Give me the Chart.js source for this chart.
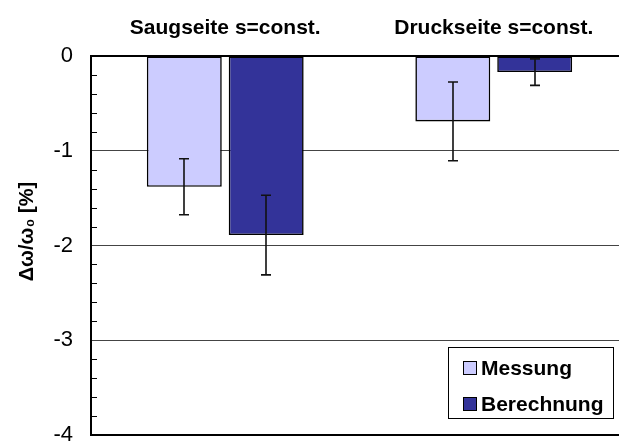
<!DOCTYPE html>
<html>
<head>
<meta charset="utf-8">
<script src="https://cdn.jsdelivr.net/npm/chart.js@4/dist/chart.umd.min.js"></script>
<style>
  html, body { margin: 0; padding: 0; background: #fff; overflow: hidden; }
  #wrap { width: 628px; height: 445px; }
</style>
</head>
<body>
<div id="wrap"><canvas id="chart" width="628" height="445"></canvas></div>
<script>
const categories = ["Saugseite s=const.", "Druckseite s=const."];
const messung = [-1.38, -0.69];
const messungErr = [0.295, 0.415];
const berechnung = [-1.89, -0.17];
const berechnungErr = [0.42, 0.14];
const yTicks = [0, -1, -2, -3, -4];

const FONT = "'Liberation Sans', Arial, sans-serif";

// whisker for each bar, value +/- err through the y scale
const errorBars = {
  id: "errorBars",
  afterDatasetsDraw(chart) {
    const { ctx, scales: { y } } = chart;
    ctx.save();
    ctx.strokeStyle = "#111";
    ctx.lineWidth = 1.6;
    chart.data.datasets.forEach((ds, i) => {
      const meta = chart.getDatasetMeta(i);
      meta.data.forEach((bar, j) => {
        const v = ds.data[j];
        const e = ds.errors[j];
        const x = Math.round(bar.x);
        const top = y.getPixelForValue(v + e);
        const bot = y.getPixelForValue(v - e);
        ctx.beginPath();
        ctx.moveTo(x, top);
        ctx.lineTo(x, bot);
        ctx.moveTo(x - 5, top);
        ctx.lineTo(x + 5, top);
        ctx.moveTo(x - 5, bot);
        ctx.lineTo(x + 5, bot);
        ctx.stroke();
      });
    });
    ctx.restore();
  },
};

// small inward ticks every 0.2 on the value axis
const minorTicks = {
  id: "minorTicks",
  afterDraw(chart) {
    const { ctx, chartArea, scales: { y } } = chart;
    ctx.save();
    ctx.strokeStyle = "#000";
    ctx.lineWidth = 1;
    for (let k = 1; k < 20; k++) {
      if (k % 5 === 0) continue;
      const py = Math.round(y.getPixelForValue(-k * 0.2)) + 0.5;
      ctx.beginPath();
      ctx.moveTo(chartArea.left, py);
      ctx.lineTo(chartArea.left + 6, py);
      ctx.stroke();
    }
    ctx.restore();
  },
};

// boxed legend sitting inside the plot, lower right
const boxLegend = {
  id: "boxLegend",
  afterDraw(chart) {
    const { ctx } = chart;
    const left = 448, top = 347, right = 614, bottom = 419;
    ctx.save();
    ctx.fillStyle = "#fff";
    ctx.fillRect(left, top, right - left, bottom - top);
    ctx.strokeStyle = "#000";
    ctx.lineWidth = 1;
    ctx.strokeRect(left + 0.5, top + 0.5, right - left - 1, bottom - top - 1);
    ctx.font = "bold 21px " + FONT;
    ctx.textBaseline = "middle";
    chart.data.datasets.forEach((ds, i) => {
      const cy = 368 + i * 36;
      ctx.fillStyle = ds.backgroundColor;
      ctx.fillRect(463, cy - 7, 14, 14);
      ctx.strokeRect(463.5, cy - 6.5, 13, 13);
      ctx.fillStyle = "#000";
      ctx.fillText(ds.label, 481, cy + 1);
    });
    ctx.restore();
  },
};

new Chart(document.getElementById("chart"), {
  type: "bar",
  data: {
    labels: categories,
    datasets: [
      {
        label: "Messung",
        data: messung,
        errors: messungErr,
        backgroundColor: "#ccccff",
        borderColor: "#000",
        borderWidth: 1.6,
        borderSkipped: false,
      },
      {
        label: "Berechnung",
        data: berechnung,
        errors: berechnungErr,
        backgroundColor: "#333399",
        borderColor: "#000",
        borderWidth: 1.6,
        borderSkipped: false,
      },
    ],
  },
  options: {
    responsive: false,
    animation: false,
    categoryPercentage: 0.61,
    barPercentage: 0.915,
    layout: { padding: { top: 0, right: 0, bottom: 10, left: 0 } },
    plugins: { legend: { display: false }, tooltip: { enabled: false } },
    scales: {
      x: {
        position: "top",
        grid: { display: false },
        border: { display: true, color: "#000", width: 2 },
        ticks: { color: "#000", font: { family: FONT, size: 21, weight: "bold" }, padding: 7 },
        afterFit(scale) { scale.height = 56; },
      },
      y: {
        min: -4,
        max: 0,
        afterBuildTicks(scale) { scale.ticks = yTicks.map((v) => ({ value: v })); },
        grid: {
          drawTicks: false,
          color: (c) => (c.tick && c.tick.value === -4 ? "#000" : "#444"),
          lineWidth: (c) => (c.tick && c.tick.value === -4 ? 2 : 1),
        },
        border: { display: true, color: "#000", width: 2 },
        ticks: { color: "#000", font: { family: FONT, size: 22 }, padding: 18 },
        title: {
          display: true,
          text: "     Δω/ω₀ [%]",
          color: "#000",
          font: { family: FONT, size: 20, weight: "bold" },
          padding: { top: 15, bottom: 0 },
        },
        afterFit(scale) {
          scale.width = 91;
          scale.paddingTop = 0;
          scale.paddingBottom = 0;
        },
      },
    },
  },
  plugins: [errorBars, minorTicks, boxLegend],
});
</script>
</body>
</html>
